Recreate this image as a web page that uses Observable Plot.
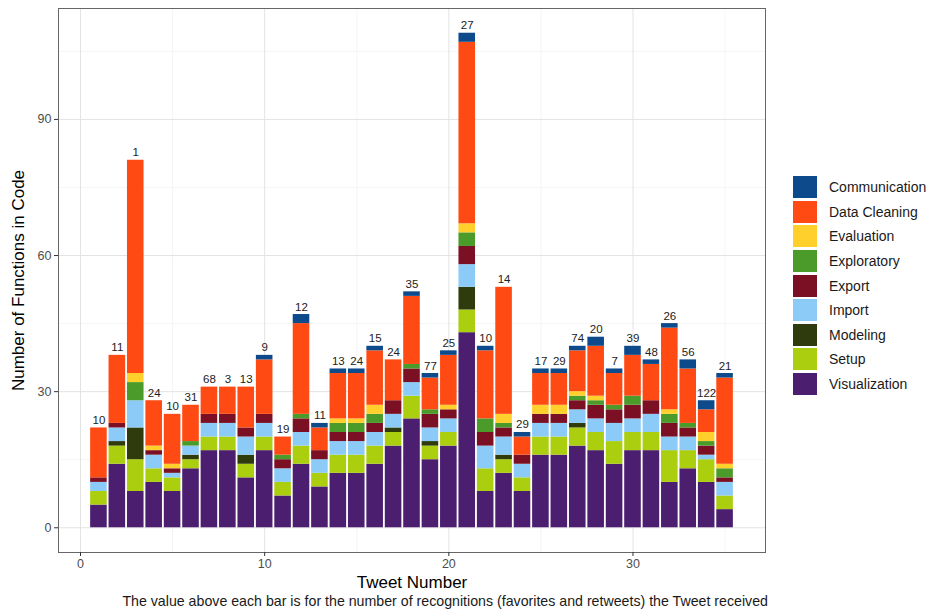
<!DOCTYPE html>
<html><head><meta charset="utf-8">
<script src="https://cdn.jsdelivr.net/npm/d3@7"></script>
<script src="https://cdn.jsdelivr.net/npm/@observablehq/plot@0.6"></script>
<style>
body{margin:0;background:#fff;font-family:"Liberation Sans",Arial,sans-serif;}
#wrap{position:relative;width:929px;height:609px;overflow:hidden;}
#legend{position:absolute;left:793px;top:175px;}
.key{display:flex;align-items:center;height:24.6px;}
.sw{width:24px;height:22px;margin-right:12px;}
.lab{font-size:14px;color:#1a1a1a;}
#caption{font-size:14.2px;line-height:16px;color:#1a1a1a;width:768px;text-align:right;margin-top:3px;white-space:nowrap;}
g[aria-label="x-axis label"] text, g[aria-label="y-axis label"] text{font-size:17px;fill:#000;}
g[aria-label="x-axis tick label"], g[aria-label="y-axis tick label"]{fill:#4d4d4d;font-size:12.5px;}
g[aria-label="x-axis tick"], g[aria-label="y-axis tick"]{stroke:#333;}
</style></head>
<body><div id="wrap"><div id="chart"></div><div id="legend"></div>
<div id="caption">The value above each bar is for the number of recognitions (favorites and retweets) the Tweet received</div></div>
<script>
const tweets = d3.range(1, 36);
const categories = ["Communication","Data Cleaning","Evaluation","Exploratory","Export","Import","Modeling","Setup","Visualization"];
const colors = ["#0C4A8C","#FF4A14","#FFD02B","#4B9B2B","#7B0F24","#8CCBF7","#2F3B0C","#ABCE0E","#4B1E70"];
const recognitions = [10,11,1,24,10,31,68,3,13,9,19,12,11,13,24,15,24,35,77,25,27,10,14,29,17,29,74,20,7,39,48,26,56,122,21];

const visualization = [5,14,8,10,8,13,17,17,11,17,7,14,9,12,12,14,18,24,15,18,43,8,12,8,16,16,18,17,14,17,17,10,13,10,4];
const setup         = [3,4,7,3,3,2,3,3,3,3,3,4,3,4,4,4,3,5,3,3,5,5,3,3,4,4,4,4,5,4,4,7,4,5,3];
const modeling      = [0,1,7,0,0,1,0,0,2,0,0,0,0,0,0,0,1,0,1,0,5,0,1,0,0,0,1,0,0,0,0,0,0,0,0];
const importing     = [2,3,6,3,1,2,3,3,4,3,3,3,3,3,3,3,3,3,3,3,5,5,4,3,3,3,3,3,4,3,4,3,3,1,3];
const exporting     = [1,1,0,1,1,0,2,2,2,2,2,3,2,2,2,2,3,3,3,2,4,3,2,2,2,2,2,3,3,3,3,3,2,2,1];
const exploratory   = [0,0,4,0,0,1,0,0,0,0,1,1,0,2,2,2,0,1,1,0,3,3,1,0,0,0,1,1,1,2,0,2,1,1,2];
const evaluation    = [0,0,2,1,1,0,0,0,0,0,0,0,0,1,1,2,0,0,0,1,2,0,2,0,2,2,1,1,0,0,0,1,0,2,1];
const dataCleaning  = [11,15,47,10,11,8,6,6,9,12,4,20,5,10,10,12,9,15,7,11,40,15,28,4,7,7,9,11,7,9,8,18,12,5,19];
const communication = [0,0,0,0,0,0,0,0,0,1,0,2,1,1,1,1,0,1,1,1,2,1,0,1,1,1,1,2,1,2,1,1,2,2,1];

const xMajor = [0,10,20,30], xMinor = [5,15,25,35];
const yMajor = [0,30,60,90], yMinor = [15,45,75,105];

const series = {
  "Communication": communication, "Data Cleaning": dataCleaning, "Evaluation": evaluation,
  "Exploratory": exploratory, "Export": exporting, "Import": importing,
  "Modeling": modeling, "Setup": setup, "Visualization": visualization
};
const stackOrder = categories.slice().reverse();
const rows = [];
for (const c of stackOrder) tweets.forEach((t, i) => rows.push({tweet: t, category: c, value: series[c][i]}));
const totals = tweets.map((t, i) => categories.reduce((s, c) => s + series[c][i], 0));
const idx = d3.range(tweets.length);

const plot = Plot.plot({
  width: 929, height: 590,
  marginLeft: 58, marginRight: 164, marginTop: 8, marginBottom: 38,
  x: {domain: [-1.195, 37.195]},
  y: {domain: [-5.45, 114.45]},
  color: {domain: categories, range: colors},
  style: {fontFamily: "Liberation Sans, Arial, sans-serif", fontSize: "12px", background: "#fff"},
  marks: [
    Plot.ruleY(yMinor, {stroke: "#f0f0f0", strokeWidth: 0.7}),
    Plot.ruleX(xMinor, {stroke: "#f0f0f0", strokeWidth: 0.7}),
    Plot.ruleY(yMajor, {stroke: "#e3e3e3", strokeWidth: 1}),
    Plot.ruleX(xMajor, {stroke: "#e3e3e3", strokeWidth: 1}),
    Plot.rectY(rows, Plot.stackY({
      x1: d => d.tweet - 0.45, x2: d => d.tweet + 0.45,
      y: "value", fill: "category", z: "category", order: stackOrder
    })),
    Plot.text(idx, {x: i => tweets[i], y: i => totals[i], text: i => recognitions[i],
      lineAnchor: "bottom", dy: -4, fontSize: 11.5, fill: "#222"}),
    Plot.frame({stroke: "#666", strokeWidth: 1}),
    Plot.axisY({ticks: yMajor, tickSize: 4, tickPadding: 3, label: "Number of Functions in Code",
      labelAnchor: "center", labelArrow: "none", labelOffset: 47}),
    Plot.axisX({ticks: xMajor, tickSize: 4, tickPadding: 3, label: "Tweet Number",
      labelAnchor: "center", labelArrow: "none", labelOffset: 35})
  ]
});
document.getElementById("chart").append(plot);

const legend = document.getElementById("legend");
categories.forEach((c, i) => {
  const k = document.createElement("div"); k.className = "key";
  const s = document.createElement("div"); s.className = "sw"; s.style.background = colors[i];
  const l = document.createElement("span"); l.className = "lab"; l.textContent = c;
  k.append(s, l); legend.append(k);
});
</script>
</body></html>
